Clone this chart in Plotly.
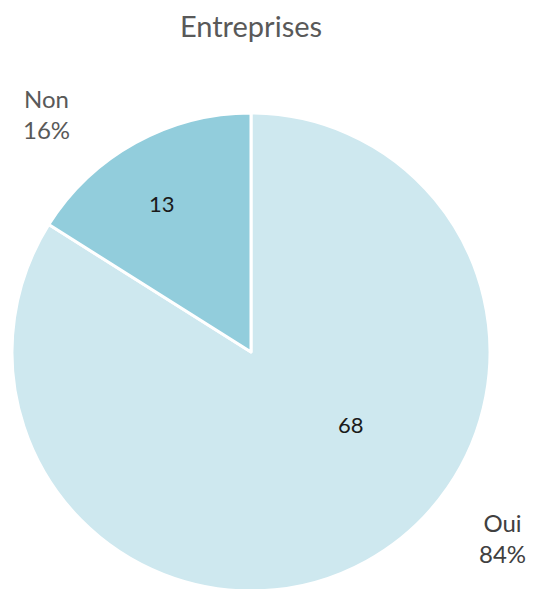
import plotly.graph_objects as go

labels = ["Oui", "Non"]
values = [68, 13]
colors = ["#CEE8EF", "#92CDDC"]

total = sum(values)
pcts = [round(100 * v / total) for v in values]

fig = go.Figure(go.Pie(
    labels=labels, values=values, sort=False, direction="clockwise", rotation=0,
    marker=dict(colors=colors, line=dict(color="white", width=3)),
    textinfo="none", showlegend=False, hoverinfo="label+value+percent",
))

# value labels inside slices and category labels outside (Excel best-fit spots)
val_pos = {"Oui": (0.7092, 0.3473), "Non": (0.3138, 0.8117)}
lab_pos = {"Non": (0.0732, 0.9979, "#595959"), "Oui": (1.0255, 0.1109, "#404040")}
for lab, v, p in zip(labels, values, pcts):
    x, y = val_pos[lab]
    fig.add_annotation(x=x, y=y, xref="paper", yref="paper", showarrow=False,
                       xanchor="center", yanchor="middle", text=str(v),
                       font=dict(family="Lato", size=22, color="#1a1a1a"))
    x, y, c = lab_pos[lab]
    fig.add_annotation(x=x, y=y, xref="paper", yref="paper", showarrow=False,
                       xanchor="center", yanchor="middle", align="center",
                       text=f"{lab}<br>{p}%",
                       font=dict(family="Lato", size=24, color=c))

fig.update_layout(
    width=534, height=589,
    margin=dict(l=4, r=52, t=105, b=6),
    paper_bgcolor="white", plot_bgcolor="white",
    title=dict(text="Entreprises", x=0.455, xanchor="center", y=0.9677,
               yanchor="middle", yref="container",
               font=dict(family="Lato", size=29, color="#595959")),
)

fig.write_html("out.html")
